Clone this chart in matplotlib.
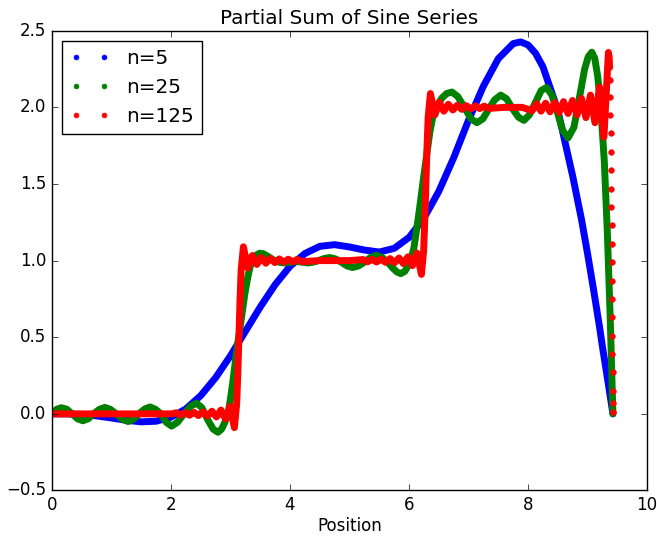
import matplotlib
matplotlib.use('Agg')
import matplotlib.pyplot as plt
from matplotlib.lines import Line2D

# n=5 partial sum
x5 = [0.0, 0.25, 0.5, 0.75, 1.0, 1.25, 1.5, 1.75, 2.0, 2.25, 2.5, 2.75, 3.0,
      3.25, 3.5, 3.75, 4.0, 4.25, 4.5, 4.75, 5.0, 5.25, 5.5, 5.75, 6.0, 6.25,
      6.5, 6.75, 7.0, 7.25, 7.5, 7.75, 7.875, 8.0, 8.125, 8.25, 8.5, 8.75,
      8.9, 9.0, 9.1, 9.2, 9.25, 9.35, 9.425]
y5 = [0.0, 0.0, -0.004, -0.013, -0.027, -0.042, -0.052, -0.048, -0.022, 0.032,
      0.119, 0.236, 0.379, 0.538, 0.697, 0.843, 0.963, 1.046, 1.093, 1.104,
      1.089, 1.069, 1.056, 1.080, 1.151, 1.277, 1.452, 1.671, 1.917, 2.139,
      2.318, 2.416, 2.427, 2.407, 2.353, 2.264, 1.980, 1.550, 1.263, 1.043,
      0.810, 0.567, 0.436, 0.190, 0.0]

# n=25 partial sum (green)
x25 = [0.0, 0.08, 0.16, 0.25, 0.34, 0.43, 0.52, 0.61, 0.70, 0.80, 0.89, 0.98,
       1.08, 1.18, 1.28, 1.37, 1.46, 1.56, 1.65, 1.74, 1.83, 1.92, 2.01, 2.11,
       2.22, 2.33, 2.43, 2.52, 2.62, 2.71, 2.79, 2.85, 2.90, 2.96, 3.00, 3.04,
       3.10, 3.16, 3.24, 3.29, 3.33, 3.38, 3.43, 3.49, 3.55, 3.62, 3.72, 3.81,
       3.90, 4.00, 4.10, 4.20, 4.30, 4.39, 4.48, 4.57, 4.67, 4.77, 4.86, 4.96,
       5.05, 5.15, 5.25, 5.35, 5.45, 5.55, 5.65, 5.73, 5.80, 5.86, 5.93, 6.02,
       6.08, 6.13, 6.18, 6.24, 6.30, 6.35, 6.40, 6.45, 6.55, 6.63, 6.72, 6.82,
       6.93, 7.04, 7.14, 7.24, 7.34, 7.44, 7.54, 7.64, 7.74, 7.84, 7.93, 8.02,
       8.12, 8.22, 8.31, 8.40, 8.49, 8.58, 8.67, 8.77, 8.87, 8.95, 9.01, 9.07,
       9.12, 9.17, 9.22, 9.28, 9.33, 9.38, 9.425]
y25 = [0.0, 0.03, 0.04, 0.03, 0.0, -0.032, -0.045, -0.032, 0.0, 0.03, 0.042,
       0.03, 0.0, -0.035, -0.05, -0.035, 0.0, 0.032, 0.045, 0.03, 0.0, -0.055,
       -0.08, -0.055, 0.0, 0.05, 0.07, 0.04, -0.04, -0.10, -0.12, -0.10, -0.06,
       0.0, 0.10, 0.21, 0.40, 0.56, 0.78, 0.89, 0.96, 1.01, 1.035, 1.048, 1.045,
       1.03, 1.005, 0.99, 0.985, 0.988, 0.995, 0.99, 0.985, 0.99, 1.0, 1.013,
       1.02, 1.01, 0.99, 0.965, 0.955, 0.965, 0.99, 1.02, 1.035, 1.02, 0.985,
       0.95, 0.925, 0.915, 0.93, 0.99, 1.08, 1.21, 1.35, 1.53, 1.70, 1.84, 1.94,
       2.00, 2.06, 2.09, 2.10, 2.07, 2.0, 1.925, 1.90, 1.925, 1.99, 2.05, 2.08,
       2.055, 1.99, 1.935, 1.915, 1.95, 2.03, 2.11, 2.13, 2.08, 1.97, 1.85,
       1.80, 1.87, 2.08, 2.25, 2.33, 2.36, 2.32, 2.20, 2.0, 1.65, 1.2, 0.62,
       0.0]

# n=125 partial sum (red), up to its last overshoot
x125 = [0.0, 0.5, 1.0, 1.5, 2.01, 2.086, 2.161, 2.237, 2.312, 2.388, 2.463,
        2.538, 2.614, 2.689, 2.765, 2.840, 2.915, 2.991, 3.066, 3.104, 3.123,
        3.142, 3.160, 3.179, 3.217, 3.292, 3.368, 3.443, 3.519, 3.594, 3.669,
        3.745, 3.820, 3.896, 3.971, 4.046, 4.122, 4.197, 4.5, 4.75, 5.0, 5.227,
        5.303, 5.378, 5.454, 5.529, 5.604, 5.680, 5.755, 5.831, 5.906, 5.982,
        6.057, 6.132, 6.208, 6.245, 6.264, 6.283, 6.302, 6.321, 6.359, 6.434,
        6.509, 6.585, 6.660, 6.736, 6.811, 6.886, 6.962, 7.037, 7.113, 7.188,
        7.263, 7.339, 7.6, 7.9, 8.068, 8.143, 8.218, 8.294, 8.369, 8.445, 8.520,
        8.595, 8.671, 8.746, 8.822, 8.897, 8.972, 9.048, 9.123, 9.199, 9.274,
        9.349, 9.362, 9.370]
y125 = [0.0, 0.0, 0.0, 0.0, 0.0, 0.007, -0.008, 0.008, -0.009, 0.010, -0.011,
        0.013, -0.014, 0.017, -0.020, 0.025, -0.033, 0.049, -0.090, 0.064,
        0.259, 0.5, 0.741, 0.936, 1.090, 0.951, 1.033, 0.975, 1.020, 0.983,
        1.014, 0.987, 1.011, 0.990, 1.009, 0.992, 1.008, 0.993, 1.0, 1.0, 1.0,
        1.007, 0.992, 1.008, 0.991, 1.010, 0.989, 1.013, 0.986, 1.017, 0.980,
        1.025, 0.967, 1.049, 0.910, 1.064, 1.259, 1.5, 1.741, 1.936, 2.090,
        1.951, 2.033, 1.975, 2.020, 1.983, 2.014, 1.987, 2.011, 1.990, 2.009,
        1.992, 2.008, 1.993, 2.0, 2.0, 1.978, 2.024, 1.975, 2.027, 1.971, 2.031,
        1.966, 2.037, 1.960, 2.045, 1.950, 2.058, 1.933, 2.080, 1.900, 2.132,
        1.806, 2.358, 2.33, 2.26]
# the sparse samples on the final drop to zero
x125_tail = [9.375, 9.380, 9.384, 9.388, 9.391, 9.394, 9.397, 9.399, 9.402,
             9.404, 9.406, 9.408, 9.410, 9.412, 9.414, 9.416, 9.418, 9.420,
             9.422, 9.4245]
y125_tail = [2.18, 2.07, 1.95, 1.83, 1.71, 1.59, 1.47, 1.35, 1.23, 1.11, 0.99,
             0.87, 0.75, 0.63, 0.51, 0.39, 0.27, 0.15, 0.07, 0.01]

plt.style.use('classic')
fig = plt.figure(figsize=(6.57, 5.39), dpi=100, facecolor='white')
ax = fig.add_subplot(111)
fig.subplots_adjust(left=0.079, right=0.985, top=0.943, bottom=0.09)

ax.plot(x5, y5, color='b', lw=5, solid_capstyle='round', solid_joinstyle='round')
ax.plot(x25, y25, color='g', lw=5, solid_capstyle='round', solid_joinstyle='round')
ax.plot(x125, y125, color='r', lw=5, solid_capstyle='round', solid_joinstyle='round')
ax.plot(x125_tail, y125_tail, '.', color='r', ms=8, mec='r')

handles = [Line2D([], [], ls='none', marker='.', color=c, mec=c, ms=7)
           for c in ['b', 'g', 'r']]
ax.legend(handles, ['n=5', 'n=25', 'n=125'], loc='upper left', numpoints=2)

ax.set_xlim(0, 10)
ax.set_ylim(-0.5, 2.5)
ax.set_xticks([0, 2, 4, 6, 8, 10])
ax.set_yticks([-0.5, 0.0, 0.5, 1.0, 1.5, 2.0, 2.5])
ax.set_title('Partial Sum of Sine Series')
ax.set_xlabel('Position', labelpad=2)

fig.savefig('out.png', dpi=100, facecolor='white')
